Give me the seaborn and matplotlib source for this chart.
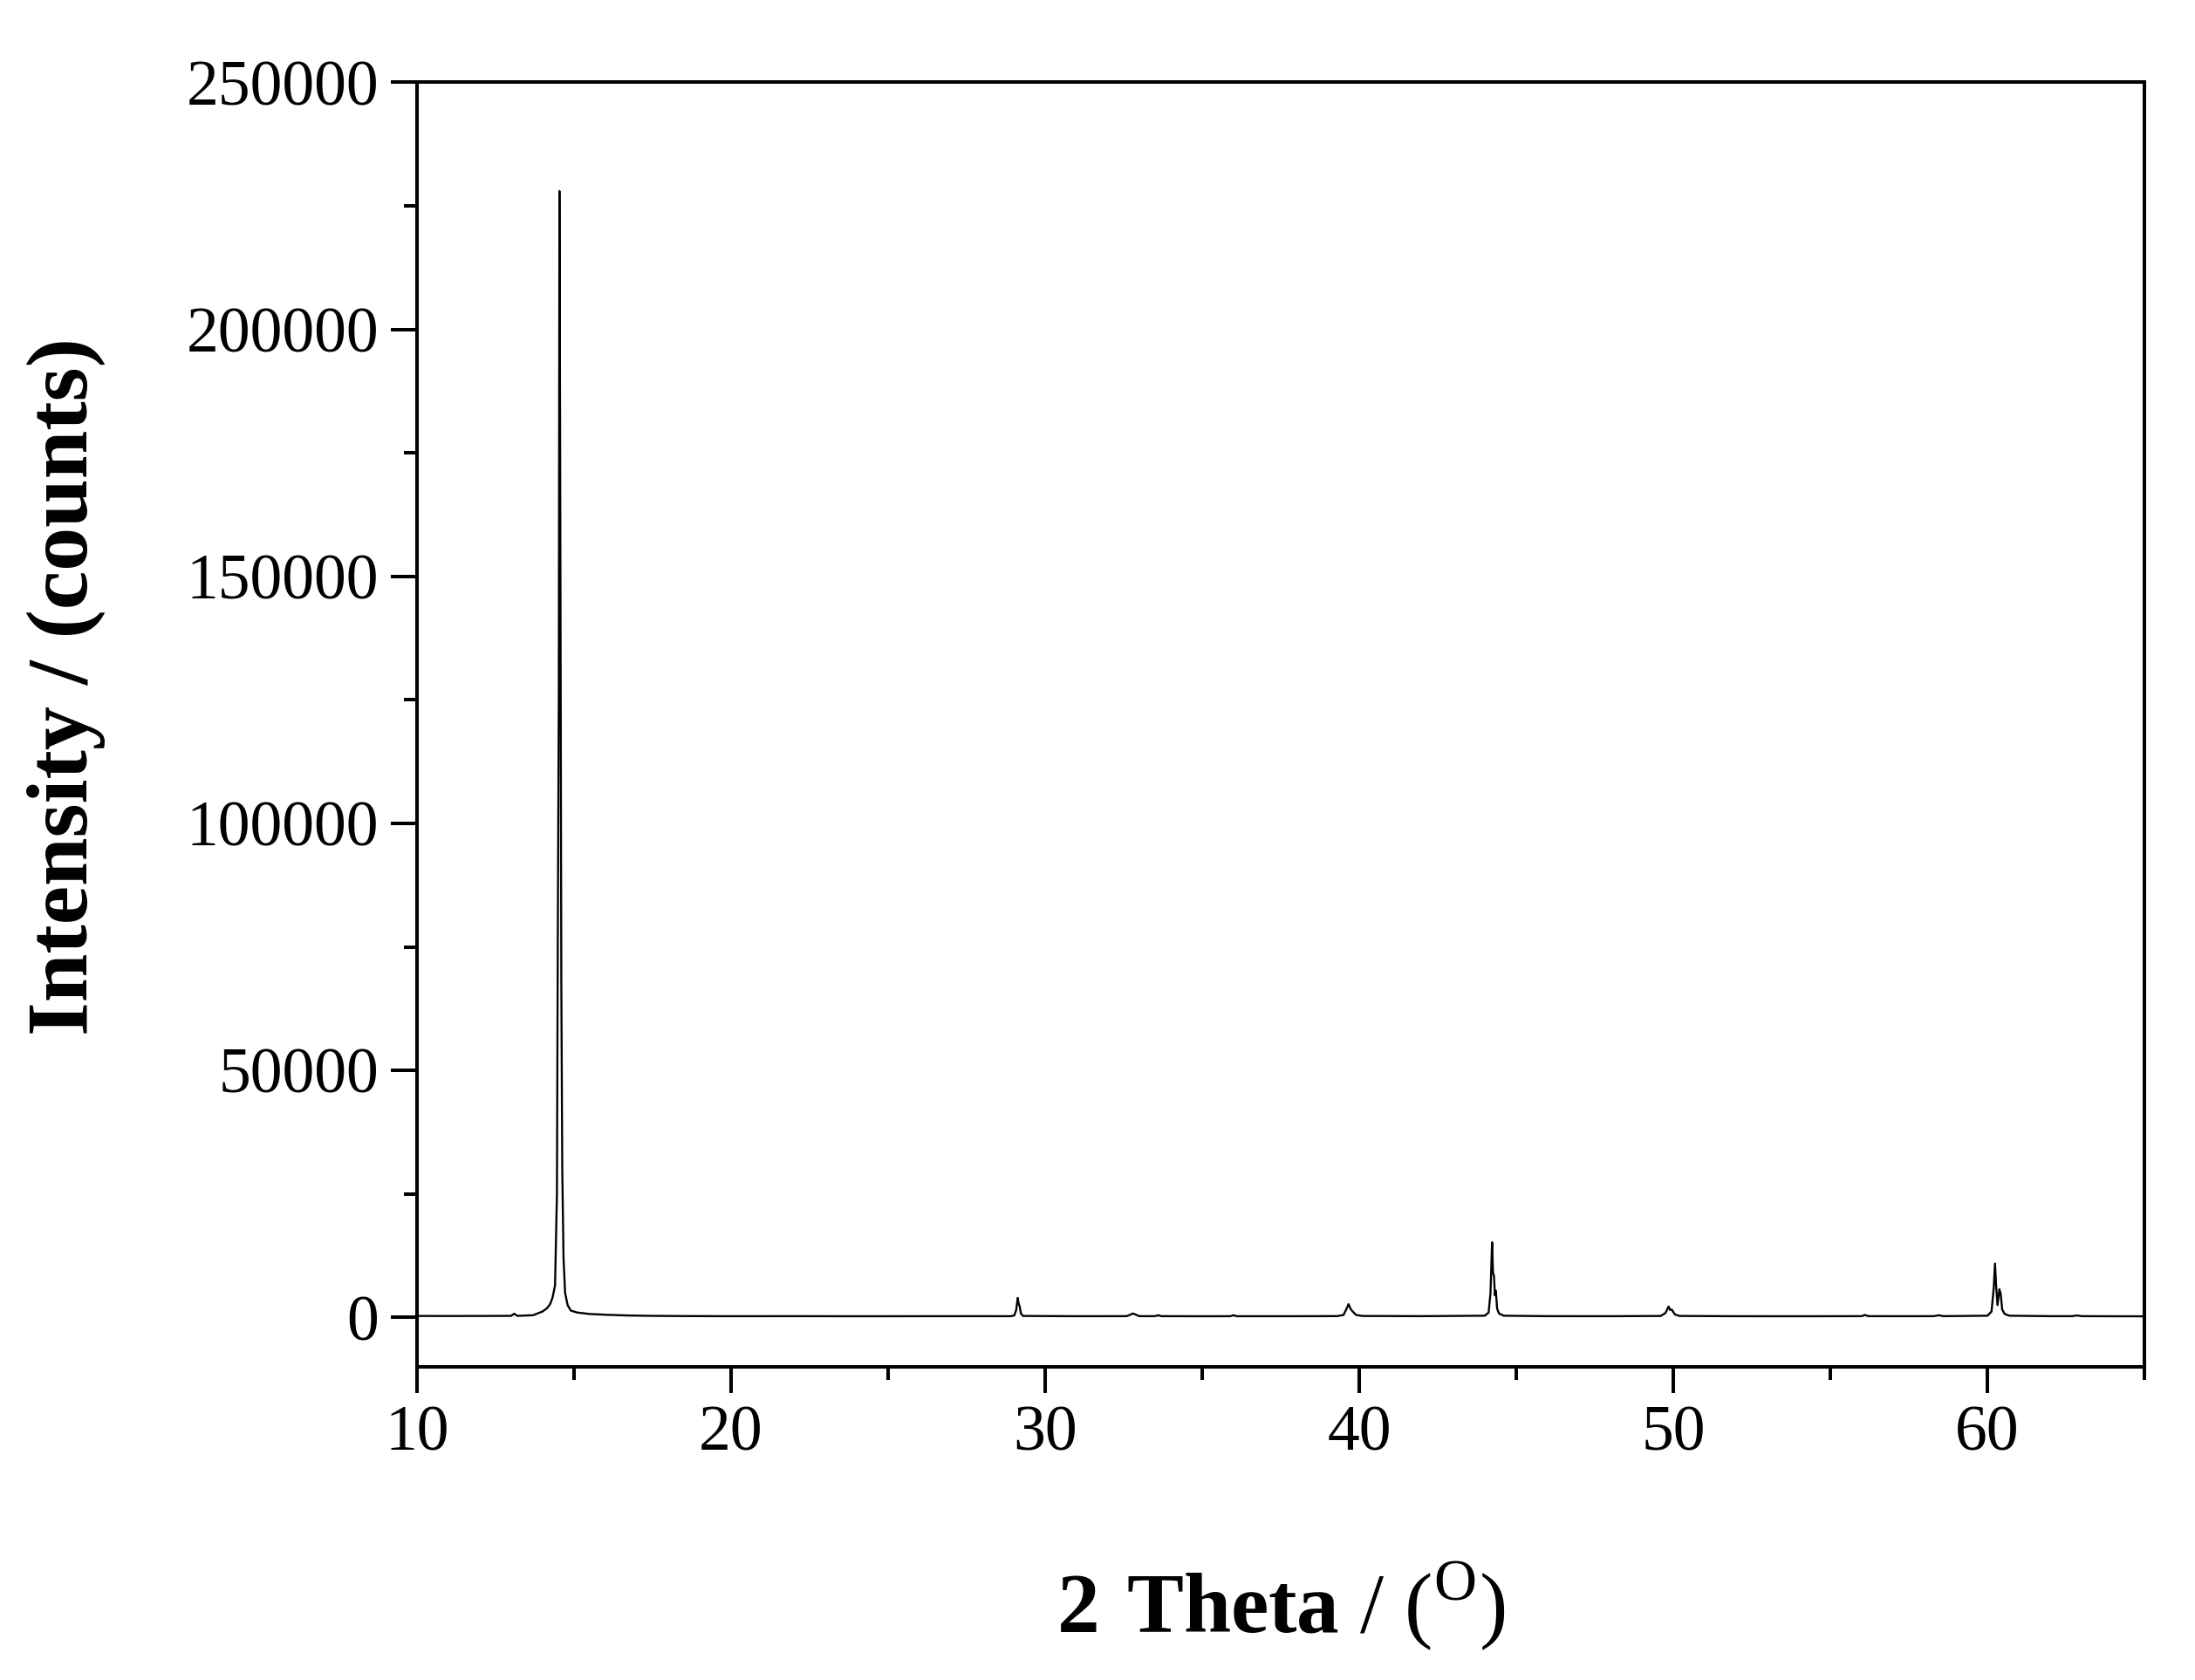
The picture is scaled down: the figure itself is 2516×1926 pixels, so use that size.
import pandas as pd
import seaborn as sns
import matplotlib.pyplot as plt
from matplotlib.ticker import MultipleLocator

# XRD pattern: 2 theta (deg) and intensity (counts)
two_theta = [
    10.0, 11.0, 12.0, 13.0, 13.1, 13.2, 13.7, 14.0, 14.15, 14.25, 14.32,
    14.40, 14.46, 14.49, 14.52, 14.54, 14.56, 14.58, 14.60, 14.63, 14.67,
    14.72, 14.80, 14.90, 15.1, 15.5, 16.0, 16.7, 17.5, 18.5, 20.0, 22.0,
    24.0, 26.0, 28.0, 28.9, 29.02, 29.08, 29.13, 29.16, 29.19, 29.23, 29.3,
    31.0, 32.6, 32.8, 33.0, 33.5, 33.6, 33.7, 35.0, 35.9, 36.0, 36.1, 38.0,
    39.3, 39.5, 39.6, 39.66, 39.72, 39.78, 39.9, 40.1, 42.0, 44.0, 44.12,
    44.18, 44.23, 44.26, 44.29, 44.32, 44.35, 44.39, 44.45, 44.6, 46.0,
    48.0, 49.6, 49.75, 49.85, 49.9, 49.95, 50.05, 50.2, 52.0, 54.0, 56.0,
    56.1, 56.2, 57.5, 58.3, 58.45, 58.6, 60.0, 60.13, 60.2, 60.24, 60.28,
    60.32, 60.38, 60.42, 60.47, 60.55, 60.7, 62.0, 62.7, 62.85, 63.0, 64.0,
    65.0,
]
intensity = [
    300, 290, 300, 320, 750, 320, 450, 1200, 1900, 2800, 4000,
    6500, 25000, 80500, 126000, 228000, 183000, 126000, 67800, 30000, 12000,
    5000, 2500, 1400, 1000, 700, 550, 400, 320, 280, 250, 260,
    240, 250, 260, 250, 400, 1500, 3950, 2700, 2300, 800, 300,
    250, 260, 800, 260, 260, 450, 260, 240, 250, 450, 250, 250,
    270, 500, 1800, 2700, 1800, 1300, 500, 300, 260, 350, 1000,
    5000, 15200, 9000, 8400, 4500, 5400, 1800, 800, 350, 260,
    250, 300, 900, 2200, 1500, 1600, 600, 300, 250, 240, 260,
    500, 260, 250, 260, 450, 260, 350, 1200, 6000, 10900, 6000,
    2500, 5700, 4800, 1600, 700, 350, 260, 260, 400, 260, 240,
    230,
]

df = pd.DataFrame({"two_theta": two_theta, "intensity": intensity})

sns.set_theme(style="ticks")
# set fonts after set_theme, which resets font.family
plt.rcParams["font.family"] = ["Liberation Serif", "DejaVu Serif"]
plt.rcParams["mathtext.fontset"] = "custom"
plt.rcParams["mathtext.rm"] = "Liberation Serif"
plt.rcParams["mathtext.bf"] = "Liberation Serif:bold"
plt.rcParams["text.color"] = "black"
plt.rcParams["axes.labelcolor"] = "black"

fig = plt.figure(figsize=(25.16, 19.26), dpi=100)
ax = fig.add_axes([0.1899, 0.1864, 0.977 - 0.1899, 0.951 - 0.1864])

sns.lineplot(data=df, x="two_theta", y="intensity", ax=ax,
             color="black", linewidth=1.7, estimator=None)

ax.set_xlim(10, 65)
ax.set_ylim(-10000, 250000)
ax.xaxis.set_major_locator(MultipleLocator(10))
ax.xaxis.set_minor_locator(MultipleLocator(5))
ax.yaxis.set_major_locator(MultipleLocator(50000))
ax.yaxis.set_minor_locator(MultipleLocator(25000))

for side in ["top", "right", "bottom", "left"]:
    ax.spines[side].set_visible(True)
    ax.spines[side].set_linewidth(2.9)
    ax.spines[side].set_color("black")

ax.tick_params(which="major", direction="out", length=21.5, width=2.9,
               labelsize=53, pad=10, colors="black")
ax.tick_params(which="minor", direction="out", length=10.8, width=2.9,
               colors="black")
ax.tick_params(top=False, right=False, which="both")

ax.set_xlabel(r"$\mathbf{2\ Theta}$ / ($^{\mathrm{O}}$)", fontsize=70,
              color="black")
ax.set_ylabel("Intensity / (counts)", fontsize=72, fontweight="bold",
              color="black")
ax.xaxis.set_label_coords(0.5, -0.15)
ax.yaxis.set_label_coords(-0.18, 0.53)

fig.savefig("out.png", dpi=100)
